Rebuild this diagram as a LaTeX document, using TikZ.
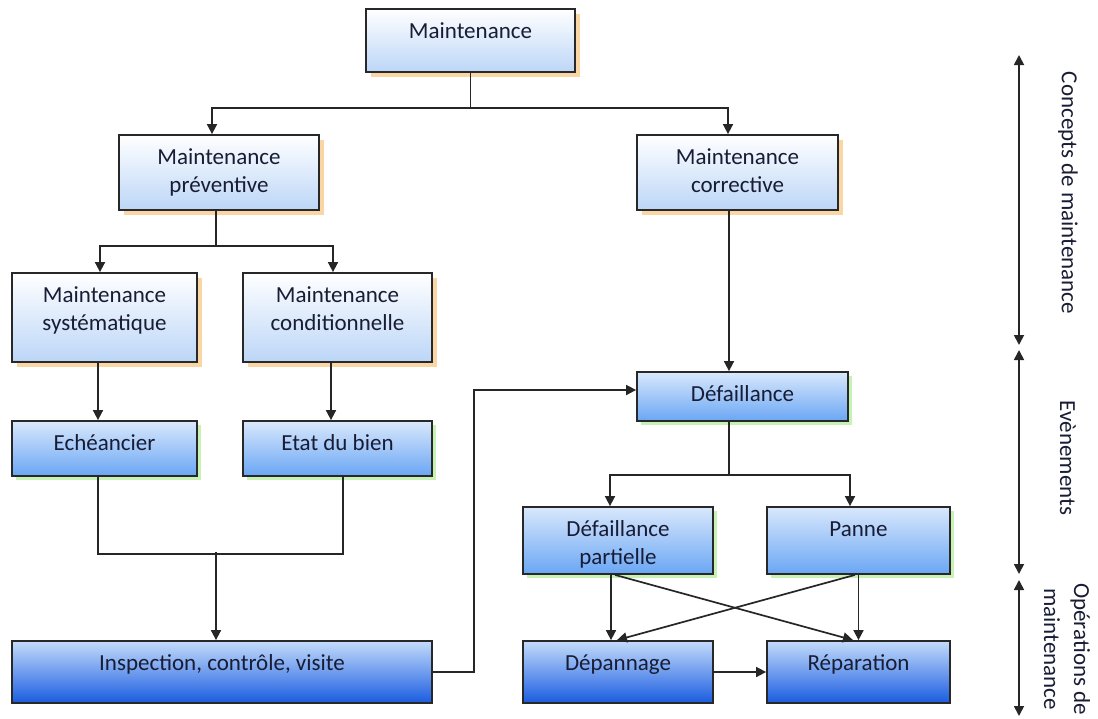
\documentclass[tikz,border=0pt]{standalone}
\usepackage{fontspec}
\setmainfont{Carlito}
\usetikzlibrary{arrows.meta,shadows}

\definecolor{ink}{RGB}{24,28,52}
\definecolor{frame}{RGB}{40,40,40}
\definecolor{conbot}{RGB}{188,214,247}
\definecolor{evtop}{RGB}{217,232,252}
\definecolor{evbot}{RGB}{106,166,244}
\definecolor{optop}{RGB}{196,220,251}
\definecolor{opmid}{RGB}{130,176,247}
\definecolor{opbot}{RGB}{26,92,224}
\definecolor{orangeshade}{RGB}{251,214,165}
\definecolor{greenshade}{RGB}{200,242,180}

% A box of width #4 and height #5 (pt) whose text hangs from the top edge
\newcommand\flowbox[6]{%
  \node[#1, minimum width=#4pt, minimum height=#5pt] (#2) at (#3)
    {\parbox[c][#5pt][t]{#4pt}{\centering\rule{0pt}{29pt}#6}};}

\tikzset{
  boxbase/.style={draw=frame, line width=1.8pt, inner sep=0pt, text=ink,
    font=\fontsize{23}{28.5}\selectfont},
  concept/.style={boxbase, top color=white, bottom color=conbot,
    drop shadow={shadow xshift=5pt, shadow yshift=-5pt, fill=orangeshade, opacity=1}},
  event/.style={boxbase, top color=evtop, bottom color=evbot,
    drop shadow={shadow xshift=4pt, shadow yshift=-4pt, fill=greenshade, opacity=1}},
  oper/.style={boxbase, top color=optop, middle color=opmid, bottom color=opbot},
  conn/.style={line width=1.7pt, draw=black!85},
  arr/.style={conn, -{Triangle[length=10pt,width=10pt]}},
  span/.style={conn, {Triangle[length=10pt,width=10pt]}-{Triangle[length=10pt,width=10pt]}},
  sidelabel/.style={rotate=-90, align=center, text=ink, font=\fontsize{23}{30}\selectfont},
}

\begin{document}
\begin{tikzpicture}[x=1pt,y=-1pt]
\useasboundingbox (0,0) rectangle (1098,718);

% maintenance concepts
\flowbox{concept}{main}{470.5,40.5}{209}{63}{Maintenance}
\flowbox{concept}{prev}{219,172.5}{200}{75}{Maintenance\\préventive}
\flowbox{concept}{corr}{737.5,172.5}{201}{75}{Maintenance\\corrective}
\flowbox{concept}{syst}{104.5,317.5}{185}{89}{Maintenance\\systématique}
\flowbox{concept}{cond}{337.5,317.5}{189}{89}{Maintenance\\conditionnelle}

% events
\flowbox{event}{ech}{104.5,448.5}{185}{55}{Echéancier}
\flowbox{event}{etat}{337.5,448.5}{189}{55}{Etat du bien}
\flowbox{event}{def}{742.5,396.5}{211}{49}{Défaillance}
\flowbox{event}{part}{618,540.5}{190}{67}{Défaillance\\partielle}
\flowbox{event}{panne}{858.5,540.5}{183}{67}{Panne}

% maintenance operations
\flowbox{oper}{insp}{222,672}{420}{62}{Inspection, contrôle, visite}
\flowbox{oper}{depan}{618,672}{190}{62}{Dépannage}
\flowbox{oper}{repar}{858.5,672}{183}{62}{Réparation}

% tree connectors
\draw[arr] (main.south) -- ++(0,35) -| ([xshift=-7pt]prev.north);
\draw[arr] (main.south) -- ++(0,35) -| ([xshift=-9.5pt]corr.north);
\draw[arr] ([xshift=-3pt]prev.south) -- ++(0,35) -| ([xshift=-4.5pt]syst.north);
\draw[arr] ([xshift=-3pt]prev.south) -- ++(0,35) -| ([xshift=-4.5pt]cond.north);
\draw[arr] ([xshift=-6.5pt]syst.south) -- ([xshift=-6.5pt]ech.north);
\draw[arr] ([xshift=-6.5pt]cond.south) -- ([xshift=-6.5pt]etat.north);
\draw[conn] ([xshift=-6.5pt]ech.south) -- ++(0,77) -| ([xshift=5.5pt]etat.south);
\draw[arr] ([xshift=-6pt]insp.north) ++(0,-88) -- ([xshift=-6pt]insp.north);
\draw[arr] (insp.east) -- ++(41,0) |- ([yshift=6.5pt]def.west);
\draw[arr] ([xshift=-8.5pt]corr.south) -- ([xshift=-13.5pt]def.north);
\draw[arr] ([xshift=-13.5pt]def.south) -- ++(0,53) -| ([xshift=-8pt]part.north);
\draw[arr] ([xshift=-13.5pt]def.south) -- ++(0,53) -| ([xshift=-8.5pt]panne.north);
\draw[arr] ([xshift=-7pt]part.south) -- ([xshift=-7pt]depan.north);
\draw[arr] ([xshift=-3pt]part.south) -- ([xshift=-5.5pt]repar.north);
\draw[arr] ([xshift=-3.5pt]panne.south) -- ([xshift=-1pt]depan.north);
\draw[arr] (panne.south) -- (repar.north);
\draw[arr] (depan.east) -- (repar.west);

% phase scale on the right
\coordinate (s1) at (1019,55);
\coordinate (s2) at (1019,345);
\coordinate (s3) at (1019,350);
\coordinate (s4) at (1019,574);
\coordinate (s5) at (1019,580);
\coordinate (s6) at (1019,716);
\draw[span] (s1) -- (s2);
\draw[span] (s3) -- (s4);
\draw[span] (s5) -- (s6);
\node[sidelabel] (lconc) at (1068,193) {Concepts de maintenance};
\node[sidelabel] (levt) at (1068,458) {Evènements};
\node[sidelabel] (lops) at (1067,649) {Opérations de\\maintenance};
\end{tikzpicture}
\end{document}
